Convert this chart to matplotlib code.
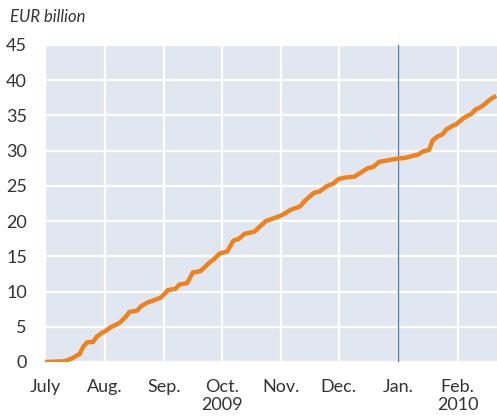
import matplotlib
matplotlib.use("Agg")
import matplotlib.pyplot as plt
import matplotlib.dates as mdates
import pandas as pd

# Cumulative purchases, EUR billion
dates = [
    "2009-07-01", "2009-07-11", "2009-07-15", "2009-07-18", "2009-07-19",
    "2009-07-21", "2009-07-23", "2009-07-26", "2009-07-28", "2009-07-31",
    "2009-08-01", "2009-08-04", "2009-08-07", "2009-08-09", "2009-08-12",
    "2009-08-14", "2009-08-18", "2009-08-20", "2009-08-23", "2009-08-27",
    "2009-08-30", "2009-09-01", "2009-09-03", "2009-09-07", "2009-09-09",
    "2009-09-13", "2009-09-16", "2009-09-20", "2009-09-25", "2009-09-27",
    "2009-09-30", "2009-10-04", "2009-10-07", "2009-10-10", "2009-10-13",
    "2009-10-18", "2009-10-20", "2009-10-24", "2009-10-28", "2009-11-01",
    "2009-11-03", "2009-11-06", "2009-11-11", "2009-11-13", "2009-11-18",
    "2009-11-21", "2009-11-25", "2009-11-28", "2009-12-01", "2009-12-05",
    "2009-12-09", "2009-12-12", "2009-12-16", "2009-12-19", "2009-12-22",
    "2009-12-26", "2009-12-30", "2010-01-05", "2010-01-09", "2010-01-11",
    "2010-01-14", "2010-01-17", "2010-01-19", "2010-01-22", "2010-01-24",
    "2010-01-26", "2010-01-29", "2010-01-31", "2010-02-03", "2010-02-05",
    "2010-02-08", "2010-02-10", "2010-02-13", "2010-02-15", "2010-02-18",
    "2010-02-21",
]
values = [
    0.0, 0.1, 0.5, 1.0, 1.1,
    2.2, 2.8, 2.85, 3.6, 4.2,
    4.3, 4.9, 5.3, 5.6, 6.4,
    7.1, 7.3, 7.9, 8.4, 8.8,
    9.1, 9.6, 10.2, 10.4, 11.0,
    11.2, 12.7, 12.9, 14.2, 14.6,
    15.4, 15.7, 17.2, 17.5, 18.2,
    18.5, 19.0, 20.0, 20.4, 20.8,
    21.1, 21.6, 22.1, 22.8, 24.0,
    24.2, 25.0, 25.3, 26.0, 26.2,
    26.3, 26.8, 27.5, 27.7, 28.4,
    28.6, 28.8, 29.0, 29.3, 29.4,
    29.9, 30.1, 31.5, 32.1, 32.3,
    33.0, 33.5, 33.7, 34.4, 34.8,
    35.2, 35.8, 36.2, 36.6, 37.3,
    37.8,
]

month_ticks = ["2009-07-01", "2009-08-01", "2009-09-01", "2009-10-01",
               "2009-11-01", "2009-12-01", "2010-01-01", "2010-02-01"]
month_labels = ["July", "Aug.", "Sep.", "Oct.\n2009",
                "Nov.", "Dec.", "Jan.", "Feb.\n2010"]
y_ticks = list(range(0, 50, 5))
marker_date = "2010-01-01"

x = pd.to_datetime(dates)
xt = pd.to_datetime(month_ticks)

plt.rcParams['font.family'] = ['Lato', 'DejaVu Sans']
text_color = "#333333"

fig = plt.figure(figsize=(4.97, 4.19), dpi=100)
ax = fig.add_axes([45 / 497, 1 - 362 / 419, 1 - 45 / 497, (362 - 45) / 419])
ax.set_facecolor("#e1e7f1")

ax.set_xticks(xt)
ax.set_xticklabels(month_labels)
ax.set_yticks(y_ticks)
ax.grid(True, color="white", linewidth=1.6)
ax.set_axisbelow(True)

ax.axvline(pd.Timestamp(marker_date), color="#4f80ad", linewidth=1.0, zorder=2)
ax.plot(x, values, color="#f0821e", linewidth=3.2, solid_joinstyle="round",
        solid_capstyle="butt", zorder=3)

ax.set_xlim(pd.Timestamp("2009-07-01"), pd.Timestamp("2010-02-21 10:00"))
ax.set_ylim(0, 45)

for s in ax.spines.values():
    s.set_visible(False)
ax.tick_params(axis="both", length=0, labelsize=13, colors=text_color)
ax.tick_params(axis="y", pad=13)
ax.tick_params(axis="x", pad=12)

fig.text(10 / 497, 1 - 17 / 419, "EUR billion", fontsize=12, style="italic",
         color=text_color, va="center", ha="left")

fig.savefig("out.png", dpi=100)
